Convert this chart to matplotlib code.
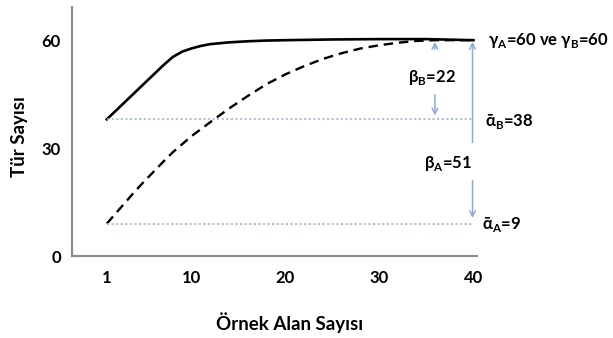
import matplotlib.pyplot as plt

plt.rcParams['font.family'] = ['Lato', 'DejaVu Sans']
plt.rcParams['font.weight'] = 'bold'
plt.rcParams['mathtext.fontset'] = 'custom'
plt.rcParams['mathtext.rm'] = 'Lato:bold'
plt.rcParams['mathtext.bf'] = 'Lato:bold'

# solid curve (starts at alpha_B = 38)
x_b = [1, 2, 3, 4, 5, 6, 7, 8, 9, 10, 11, 12, 14, 16, 18, 20, 25, 30, 35, 40]
y_b = [38, 40.5, 43, 45.5, 48, 50.5, 53, 55.3, 56.8, 57.7, 58.4, 58.9, 59.4,
       59.7, 59.9, 60, 60.2, 60.3, 60.3, 60]

# dashed curve (starts at alpha_A = 9)
x_a = [1, 2, 3, 4, 5, 6, 7, 8, 10, 12, 14, 16, 18, 20, 22, 24, 26, 28, 30,
       32, 34, 36, 38, 40]
y_a = [9, 12, 15, 18, 20.8, 23.5, 26.2, 28.8, 33.3, 37.2, 41, 44.5, 47.8,
       50.5, 52.8, 54.8, 56.4, 57.7, 58.6, 59.3, 59.8, 60, 60, 60]

alpha_a, alpha_b, gamma = 9, 38, 60
xticks = [1, 10, 20, 30, 40]
yticks = [0, 30, 60]

fig = plt.figure(figsize=(6.13, 3.38), dpi=100)
ax = fig.add_axes([0.1175, 0.2426, 0.661, 0.7364])

ax.plot(x_b, y_b, color='black', lw=1.9)
ax.plot(x_a, y_a, color='black', lw=1.7, ls=(0, (4, 2.5)))

dot = '#9fb4c8'
ax.plot([1, 40], [alpha_b, alpha_b], color=dot, lw=1.1, ls=(0, (1.5, 1.5)))
ax.plot([1, 40], [alpha_a, alpha_a], color=dot, lw=1.1, ls=(0, (1.5, 1.5)))

arr = dict(arrowstyle='->', color='#8eaad0', lw=1.1, mutation_scale=10)
# beta_B arrows
ax.annotate('', xy=(35.9, 60.3), xytext=(35.9, 56.7), arrowprops=arr)
ax.annotate('', xy=(35.9, 38.3), xytext=(35.9, 45.6), arrowprops=arr)
# beta_A arrows
ax.annotate('', xy=(39.9, 60.3), xytext=(39.9, 30.8), arrowprops=arr)
ax.annotate('', xy=(39.9, 9.8), xytext=(39.9, 21.7), arrowprops=arr)

fs = 12
ax.text(35.6, 49.7, r'β$_\mathrm{B}$=22', ha='center', va='center', fontsize=fs)
ax.text(37.3, 25.8, r'β$_\mathrm{A}$=51', ha='center', va='center', fontsize=fs)
ax.text(41.5, 60, r'γ$_\mathrm{A}$=60 ve γ$_\mathrm{B}$=60', ha='left', va='center',
        fontsize=fs, clip_on=False)
ax.text(41.2, 37.3, r'ᾱ$_\mathrm{B}$=38', ha='left', va='center', fontsize=fs,
        clip_on=False)
ax.text(40.9, 8.8, r'ᾱ$_\mathrm{A}$=9', ha='left', va='center', fontsize=fs,
        clip_on=False)

ax.set_xlim(-2.7, 40.4)
ax.set_ylim(0, 69.2)
ax.set_xticks(xticks)
ax.set_yticks(yticks)
ax.tick_params(length=0, labelsize=12)
ax.tick_params(axis='x', pad=10)
ax.tick_params(axis='y', pad=8)
for lab in ax.get_xticklabels() + ax.get_yticklabels():
    lab.set_fontweight('bold')

for s in ['top', 'right']:
    ax.spines[s].set_visible(False)
for s in ['left', 'bottom']:
    ax.spines[s].set_color('#8c8c8c')
    ax.spines[s].set_linewidth(1.6)

ax.set_xlabel('Örnek Alan Sayısı', fontsize=13.5, fontweight='bold')
ax.set_ylabel('Tür Sayısı', fontsize=13.5, fontweight='bold')
ax.xaxis.set_label_coords(0.538, -0.225)
ax.yaxis.set_label_coords(-0.108, 0.48)

fig.savefig('out.png', dpi=100)
